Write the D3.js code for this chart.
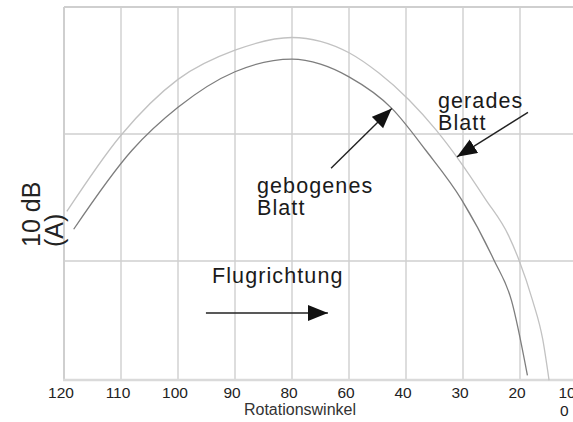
<!DOCTYPE html>
<html>
<head>
<meta charset="utf-8">
<script src="https://cdn.jsdelivr.net/npm/d3@7"></script>
<style>
  body { margin: 0; background: #fff; }
  text { font-family: "Liberation Sans", Arial, Helvetica, sans-serif; }
</style>
</head>
<body>
<div id="chart"></div>
<script>
// x axis tick labels (Rotationswinkel, not evenly spaced in value)
const ticks = [120, 110, 100, 90, 80, 60, 40, 30, 20, 10]
// horizontal grid steps, 10 dB each
const dbGrid = [10, 20, 30]

// gebogenes Blatt (bent blade)
const angleBent = [118.3, 108.1, 100, 90, 80, 70, 60, 44.9, 36.5, 30.2, 24.6, 21.5, 18.7]
const dbBent = [12.5, 18.7, 22.1, 24.9, 25.9, 25.5, 24.5, 22.0, 18.7, 14.8, 10.1, 6.9, 1.0]

// gerades Blatt (straight blade)
const angleStraight = [119.5, 110, 100, 90, 80, 70, 60, 49.5, 39.5, 34.7, 30.7, 26.1, 22.0, 20.2, 17.8, 16, 14.9]
const dbStraight = [13.9, 19.9, 24.3, 26.6, 27.6, 27.3, 26.4, 24.8, 22.7, 20.3, 17.95, 14.9, 12.0, 10.1, 6.9, 3.8, 0.6]

const width = 573, height = 422
const left = 64, step = 57, bottom = 380

const svg = d3.select("#chart").append("svg").attr("width", width).attr("height", height)

// piecewise linear scale so each tick sits one step apart
const x = d3.scaleLinear().domain(ticks).range(ticks.map((d, i) => left + i * step))
const y = d3.scaleLinear().domain([0, 30]).range([388, 7])

// grid
svg.selectAll(".vgrid").data(ticks).enter().append("line")
  .attr("x1", d => x(d)).attr("x2", d => x(d))
  .attr("y1", y(30)).attr("y2", bottom)
  .attr("stroke", "#cfcfcf").attr("stroke-width", d => d == 120 ? 2 : 1.4)

svg.selectAll(".hgrid").data(dbGrid).enter().append("line")
  .attr("x1", x(120)).attr("x2", width)
  .attr("y1", d => y(d)).attr("y2", d => y(d))
  .attr("stroke", "#cfcfcf").attr("stroke-width", d => d == 30 ? 2 : 1.4)

// bottom frame line
svg.append("line").attr("x1", x(120) - 1).attr("x2", width).attr("y1", bottom).attr("y2", bottom)
  .attr("stroke", "#dadada").attr("stroke-width", 2.5)

// tick labels (the last one runs off the edge, as in the original)
svg.selectAll(".tick").data(ticks).enter().append("text")
  .attr("x", d => x(d) - (d == 10 ? 10 : 3)).attr("y", 398)
  .attr("text-anchor", "middle").attr("font-size", 15.5).attr("fill", "#222")
  .text(d => d)
svg.append("text").attr("x", x(10) - 17).attr("y", 416).attr("font-size", 15.5).attr("fill", "#222").text("0")

svg.append("text").attr("x", 300).attr("y", 415).attr("text-anchor", "middle")
  .attr("font-size", 16).attr("fill", "#333").text("Rotationswinkel")

// y label
svg.append("text").attr("transform", "translate(40,247) rotate(-90)")
  .attr("font-size", 25).attr("fill", "#222").text("10 dB")
svg.append("text").attr("transform", "translate(63,247) rotate(-90)")
  .attr("font-size", 25).attr("fill", "#222").text("(A)")

// curves
const line = d3.line().x(d => x(d[0])).y(d => y(d[1])).curve(d3.curveMonotoneX)

svg.append("path").attr("d", line(d3.zip(angleStraight, dbStraight)))
  .attr("fill", "none").attr("stroke", "#c2c2c2").attr("stroke-width", 1.3)

svg.append("path").attr("d", line(d3.zip(angleBent, dbBent)))
  .attr("fill", "none").attr("stroke", "#7d7d7d").attr("stroke-width", 1.3)

// arrow head marker
svg.append("defs").append("marker")
  .attr("id", "head").attr("markerUnits", "userSpaceOnUse")
  .attr("markerWidth", 21).attr("markerHeight", 17)
  .attr("refX", 20).attr("refY", 8).attr("orient", "auto")
  .append("path").attr("d", "M0,0 L20,8 L0,16 Z").attr("fill", "#111")

const arrows = [
  [[66.3, 17.3], [45, 22.0]],    // gebogenes Blatt
  [[18.6, 21.7], [31.05, 18.2]], // gerades Blatt
  [[95.1, 5.9], [67.4, 5.9]]     // Flugrichtung
]
svg.selectAll(".arrow").data(arrows).enter().append("line")
  .attr("x1", d => x(d[0][0])).attr("y1", d => y(d[0][1]))
  .attr("x2", d => x(d[1][0])).attr("y2", d => y(d[1][1]))
  .attr("stroke", "#222").attr("stroke-width", 1.4)
  .attr("marker-end", "url(#head)")

// annotations
const note = (tx, ty, lines) => {
  const t = svg.append("text").attr("x", tx).attr("y", ty)
    .attr("font-size", 21.5).attr("letter-spacing", 1.1).attr("fill", "#1a1a1a")
  lines.forEach((s, i) => t.append("tspan").attr("x", tx).attr("dy", i ? 22 : 0).text(s))
}
note(257, 193, ["gebogenes", "Blatt"])
note(438, 108, ["gerades", "Blatt"])
note(212, 283, ["Flugrichtung"])
</script>
</body>
</html>
